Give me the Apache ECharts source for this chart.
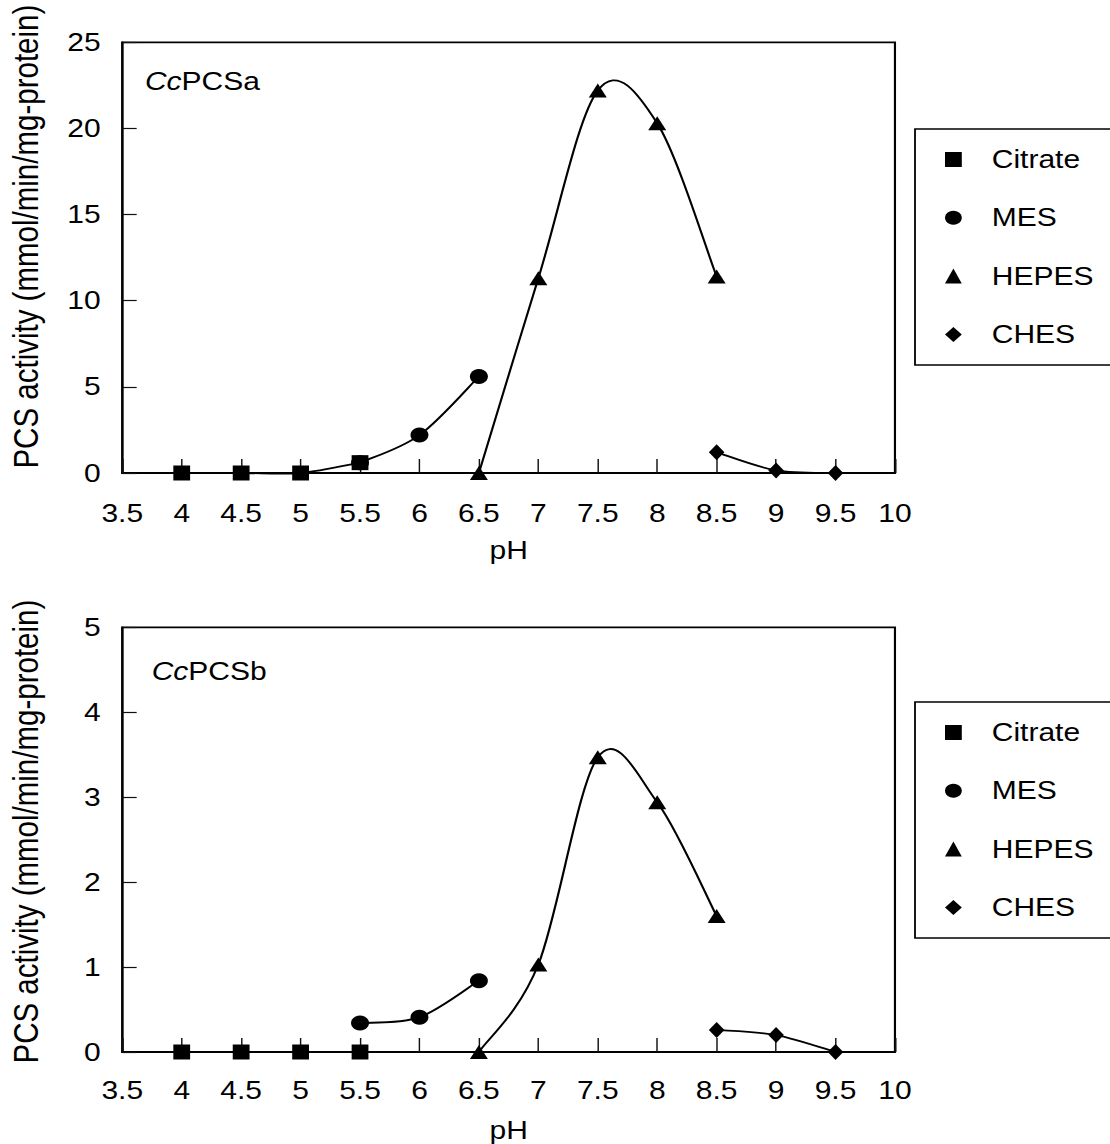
<!DOCTYPE html>
<html>
<head>
<meta charset="utf-8">
<script src="https://cdn.jsdelivr.net/npm/echarts@6/dist/echarts.min.js"></script>
<style>
  html, body { margin: 0; padding: 0; background: #fff; overflow: hidden; }
  #wrap { width: 1110px; height: 1144px; overflow: hidden; }
  /* the figure is drawn in a narrower frame and widened 1.2x */
  #chart { width: 925px; height: 1144px; transform: scaleX(1.2); transform-origin: 0 0; }
</style>
</head>
<body>
<div id="wrap"><div id="chart"></div></div>
<script>
// pH points measured for each buffer
const citratePH = [4, 4.5, 5, 5.5];
const mesPH = [5.5, 6, 6.5];
const hepesPH = [6.5, 7, 7.5, 8, 8.5];
const chesPH = [8.5, 9, 9.5];

// PCS activity, CcPCSa
const citrateA = [0, 0, 0, 0.6];
const mesA = [0.6, 2.2, 5.6];
const hepesA = [0, 11.3, 22.2, 20.3, 11.4];
const chesA = [1.2, 0.15, 0];

// PCS activity, CcPCSb
const citrateB = [0, 0, 0, 0];
const mesB = [0.34, 0.41, 0.84];
const hepesB = [0, 1.03, 3.47, 2.94, 1.6];
const chesB = [0.26, 0.2, 0];

const bufferNames = ['Citrate', 'MES', 'HEPES', 'CHES'];
const panelNames = ['PCSa', 'PCSb'];
const xMin = 3.5, xMax = 10, xStep = 0.5;
const yMaxes = [25, 5];
const ySteps = [5, 1];
const yTitle = 'PCS activity (mmol/min/mg-protein)';
const xTitle = 'pH';

const FONT = '"Liberation Sans", Arial, sans-serif';
const symbols = ['rect', 'circle', 'triangle', 'diamond'];
const symbolSizes = [[14, 15], [15, 15], [15, 14], [13, 16]];
const symbolZ = [6, 5, 5, 5];

const panels = [
  { ph: [citratePH, mesPH, hepesPH, chesPH], act: [citrateA, mesA, hepesA, chesA] },
  { ph: [citratePH, mesPH, hepesPH, chesPH], act: [citrateB, mesB, hepesB, chesB] }
];

// Smoothed connecting line: cubic Bezier segments with Catmull-Rom style
// control points (1/6 of the neighbour span), computed in pixel space.
function smoothLine(xs, ys, g) {
  const pts = xs.map((x, i) => [x, ys[i]]);
  return {
    type: 'custom',
    xAxisIndex: g,
    yAxisIndex: g,
    z: 2,
    silent: true,
    data: pts,
    renderItem(params, api) {
      const i = params.dataIndex;
      if (i >= pts.length - 1) return { type: 'group', children: [] };
      const c = k => api.coord(pts[Math.max(0, Math.min(pts.length - 1, k))]);
      const p0 = c(i - 1), p1 = c(i), p2 = c(i + 1), p3 = c(i + 2);
      return {
        type: 'bezierCurve',
        shape: {
          x1: p1[0], y1: p1[1], x2: p2[0], y2: p2[1],
          cpx1: p1[0] + (p2[0] - p0[0]) / 6, cpy1: p1[1] + (p2[1] - p0[1]) / 6,
          cpx2: p2[0] - (p3[0] - p1[0]) / 6, cpy2: p2[1] - (p3[1] - p1[1]) / 6
        },
        style: { stroke: '#000', lineWidth: 1.8, fill: null }
      };
    }
  };
}

const series = [];
panels.forEach((p, g) => {
  p.ph.forEach((xs, b) => {
    series.push(smoothLine(xs, p.act[b], g));
  });
  p.ph.forEach((xs, b) => {
    series.push({
      type: 'scatter',
      name: bufferNames[b],
      xAxisIndex: g,
      yAxisIndex: g,
      z: symbolZ[b],
      symbol: symbols[b],
      symbolSize: symbolSizes[b],
      itemStyle: { color: '#000', opacity: 1 },
      data: xs.map((x, i) => [x, p.act[b][i]])
    });
  });
});

const grids = [
  { left: 101.9, width: 643.9, top: 42.3, height: 430.7 },
  { left: 101.9, width: 643.9, top: 627.3, height: 424.7 }
].map(r => Object.assign(r, {
  show: true, borderColor: '#000', borderWidth: 1.8, backgroundColor: 'transparent',
  containLabel: false, outerBoundsMode: 'none'
}));

const xAxes = [0, 1].map(g => ({
  type: 'value', gridIndex: g, min: xMin, max: xMax, interval: xStep,
  name: xTitle, nameLocation: 'middle', nameGap: g ? 66 : 65,
  nameTextStyle: { fontSize: 25, lineHeight: 24, color: '#000', fontFamily: FONT },
  axisLine: { lineStyle: { color: '#000', width: 1.8 } },
  axisTick: { inside: true, length: 14, lineStyle: { color: '#111', width: 1.2 } },
  axisLabel: { fontSize: 25, color: '#000', margin: g ? 26 : 28, fontFamily: FONT },
  splitLine: { show: false }
}));

// the rotated axis titles sit a little above the middle of each panel
const yTitleShift = [42, 16];
const yAxes = [0, 1].map(g => ({
  type: 'value', gridIndex: g, min: 0, max: yMaxes[g], interval: ySteps[g],
  name: yTitle, nameLocation: 'middle', nameGap: 65,
  nameTextStyle: { fontSize: 29.5, color: '#000', fontFamily: FONT, padding: [0, 0, 0, yTitleShift[g]] },
  axisLine: { lineStyle: { color: '#000', width: 1.8 } },
  axisTick: { inside: true, length: 12, lineStyle: { color: '#111', width: 1.2 } },
  axisLabel: { fontSize: 25, color: '#000', margin: 18, fontFamily: FONT },
  splitLine: { show: false }
}));

const legendData = bufferNames.map((n, i) => ({ name: n, icon: symbols[i] }));
const legends = [129, 702].map(top => ({
  orient: 'vertical',
  left: 762.5,
  top: top,
  padding: [18, 300, 18, 25],
  itemGap: 33.3,
  itemWidth: 14,
  itemHeight: 15,
  borderColor: '#000',
  borderWidth: 1.5,
  backgroundColor: '#fff',
  selectedMode: false,
  data: legendData,
  itemStyle: { opacity: 1 },
  textStyle: { fontSize: 25, lineHeight: 25, color: '#000', fontFamily: FONT, padding: [0, 0, 0, 20] }
}));

const titles = [[120.8, 68.5], [126.4, 658.5]].map((pos, g) => ({
  left: pos[0], top: pos[1], padding: 0,
  text: '{i|Cc}{n|' + panelNames[g] + '}',
  textStyle: {
    rich: {
      i: { fontSize: 25, lineHeight: 25, fontStyle: 'italic', fontWeight: 'normal', color: '#000', fontFamily: FONT },
      n: { fontSize: 25, lineHeight: 25, fontWeight: 'normal', color: '#000', fontFamily: FONT }
    }
  }
}));

const chart = echarts.init(document.getElementById('chart'), null, { renderer: 'svg' });
chart.setOption({
  animation: false,
  backgroundColor: '#fff',
  title: titles,
  legend: legends,
  grid: grids,
  xAxis: xAxes,
  yAxis: yAxes,
  series: series
});
</script>
</body>
</html>
